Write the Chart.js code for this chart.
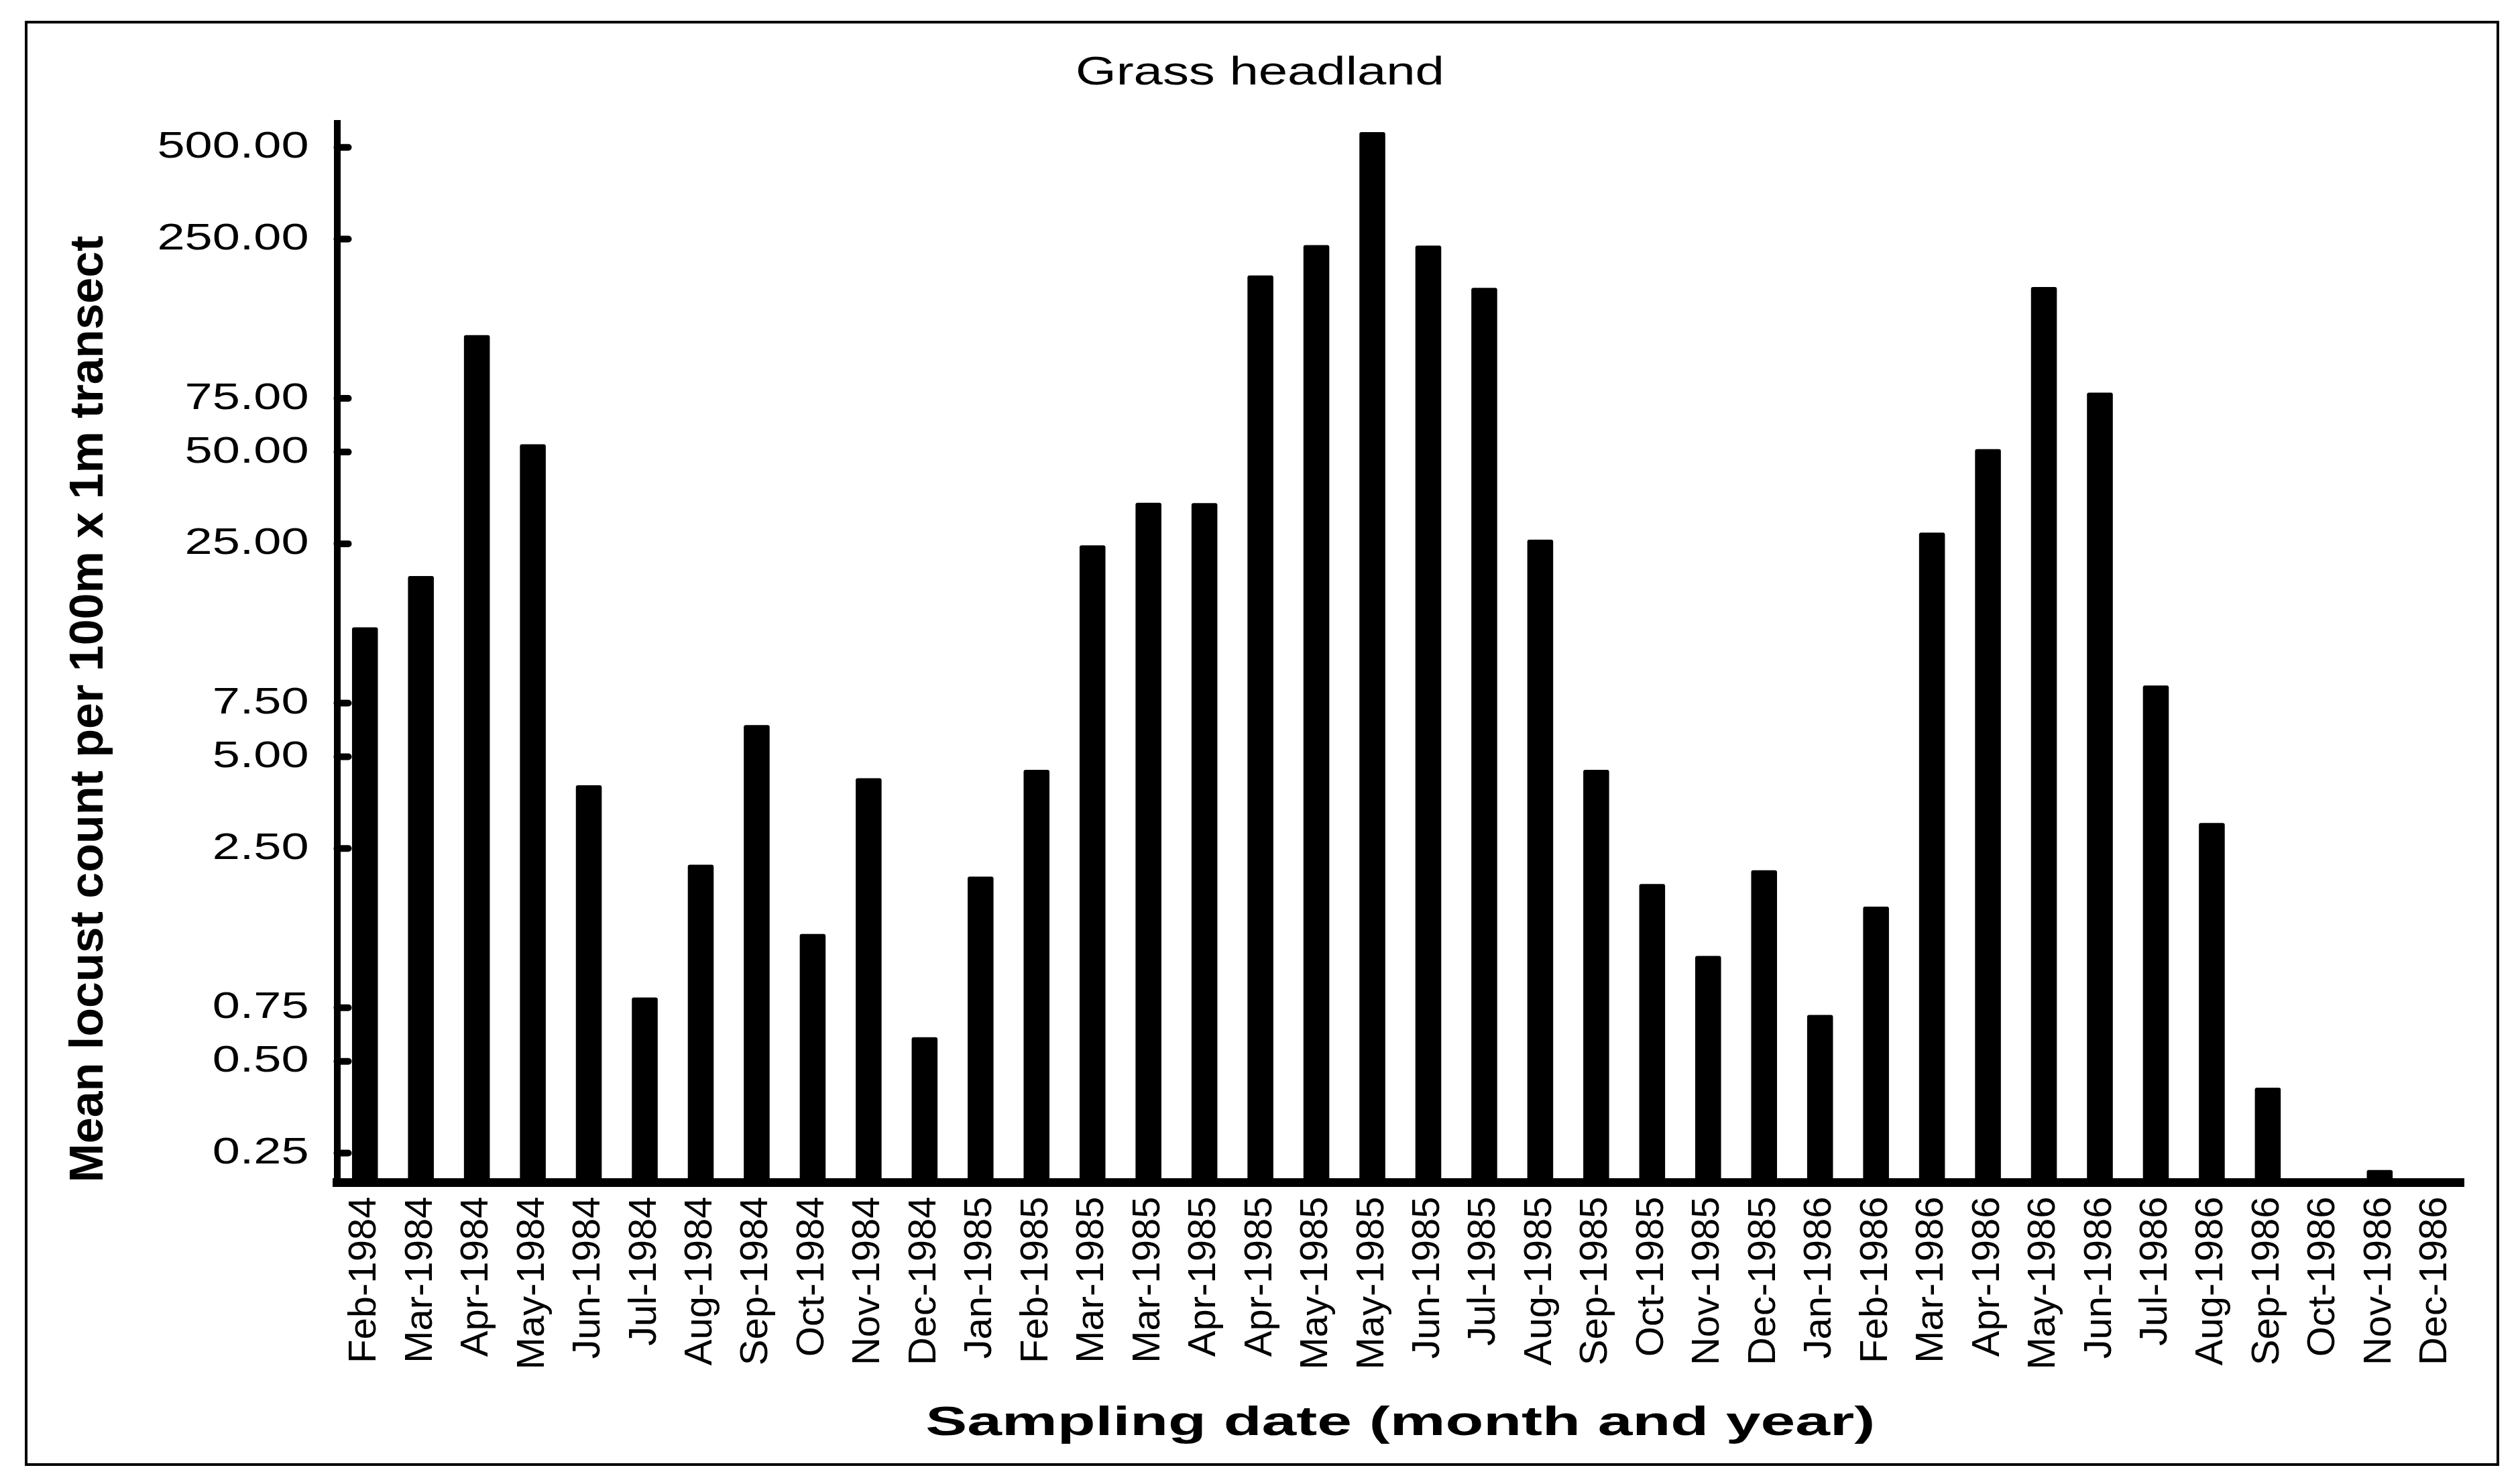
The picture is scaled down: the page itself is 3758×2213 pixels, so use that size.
<!DOCTYPE html>
<html>
<head>
<meta charset="utf-8">
<title>Grass headland</title>
<script src="https://cdn.jsdelivr.net/npm/chart.js@4.4.1/dist/chart.umd.min.js"></script>
<style>
    html, body { margin: 0; padding: 0; background: #fff; }
    #frame {
        position: absolute; left: 37px; top: 31px; width: 3690px; height: 2155px;
        border: 4px solid #000; box-sizing: border-box;
    }
    #chart { position: absolute; left: 0; top: 0; }
</style>
</head>
<body>
<div id="frame"></div>
<canvas id="chart" width="3758" height="2213" style="width:3758px;height:2213px"></canvas>
<script>
const months = [
    'Feb-1984', 'Mar-1984', 'Apr-1984', 'May-1984', 'Jun-1984', 'Jul-1984', 'Aug-1984',
    'Sep-1984', 'Oct-1984', 'Nov-1984', 'Dec-1984', 'Jan-1985', 'Feb-1985', 'Mar-1985',
    'Mar-1985', 'Apr-1985', 'Apr-1985', 'May-1985', 'May-1985', 'Jun-1985', 'Jul-1985',
    'Aug-1985', 'Sep-1985', 'Oct-1985', 'Nov-1985', 'Dec-1985', 'Jan-1986', 'Feb-1986',
    'Mar-1986', 'Apr-1986', 'May-1986', 'Jun-1986', 'Jul-1986', 'Aug-1986', 'Sep-1986',
    'Oct-1986', 'Nov-1986', 'Dec-1986'
];

// mean locust count per 100m x 1m transect
const meanCounts = [
    13.3, 19.6, 121, 53.0, 4.03, 0.81, 2.21,
    6.35, 1.31, 4.25, 0.60, 2.02, 4.53, 24.7,
    34.1, 34.0, 190, 239, 561, 238, 173,
    25.8, 4.53, 1.91, 1.11, 2.12, 0.71, 1.61,
    27.2, 51.1, 174, 78.3, 8.57, 3.03, 0.41,
    null, 0.22, null
];

const yTickValues = [0.25, 0.5, 0.75, 2.5, 5, 7.5, 25, 50, 75, 250, 500];

const FONT = 'Liberation Sans, Arial, sans-serif';

// the picture's horizontal lettering is wider than plain Arial
const wideText = {
    id: 'wideText',
    beforeDraw(chart) {
        const ctx = chart.ctx;
        if (ctx._wide) return;
        ctx._wide = true;
        const fill = ctx.fillText;
        ctx.fillText = function (text, x, y, maxWidth) {
            const m = this.getTransform();
            if (Math.abs(m.b) > 0.001) {
                return fill.call(this, text, x, y, maxWidth);
            }
            const k = this.font.indexOf('bold') >= 0 ? 1.5 : 1.32;
            this.save();
            this.translate(x, y);
            this.scale(k, 1);
            if (maxWidth === undefined) fill.call(this, text, 0, 0);
            else fill.call(this, text, 0, 0, maxWidth);
            this.restore();
        };
    }
};

// short tick marks pointing into the plot
const yTickMarks = {
    id: 'yTickMarks',
    afterDraw(chart) {
        const scale = chart.scales.y;
        const ctx = chart.ctx;
        ctx.save();
        ctx.strokeStyle = '#000';
        ctx.lineWidth = 10;
        ctx.lineCap = 'round';
        scale.ticks.forEach(t => {
            const py = scale.getPixelForValue(t.value);
            ctx.beginPath();
            ctx.moveTo(scale.right, py);
            ctx.lineTo(scale.right + 17, py);
            ctx.stroke();
        });
        ctx.restore();
    }
};

new Chart(document.getElementById('chart'), {
    type: 'bar',
    data: {
        labels: months,
        datasets: [{
            data: meanCounts,
            backgroundColor: '#000',
            borderWidth: 0,
            borderRadius: { topLeft: 3, topRight: 3 },
            barPercentage: 0.462,
            categoryPercentage: 1
        }]
    },
    options: {
        responsive: false,
        animation: false,
        devicePixelRatio: 1,
        layout: { padding: 0 },
        plugins: {
            legend: { display: false },
            tooltip: { enabled: false },
            title: {
                display: true,
                text: 'Grass headland',
                color: '#000',
                font: { family: FONT, size: 59, weight: 'normal' },
                padding: { top: 74, bottom: 39 }
            }
        },
        scales: {
            x: {
                grid: { display: false, drawTicks: false },
                border: { display: true, color: '#000', width: 13 },
                ticks: {
                    color: '#000',
                    font: { family: FONT, size: 58 },
                    minRotation: 90,
                    maxRotation: 90,
                    autoSkip: false,
                    padding: 21
                },
                title: {
                    display: true,
                    text: 'Sampling date (month and year)',
                    color: '#000',
                    font: { family: FONT, size: 62, weight: 'bold' },
                    padding: { top: 0, bottom: 53 }
                },
                afterFit(scale) { scale.height = 449.4; }
            },
            y: {
                type: 'logarithmic',
                min: 0.2,
                max: 600,
                grid: { display: false, drawTicks: false },
                border: { display: true, color: '#000', width: 10 },
                afterBuildTicks(scale) {
                    scale.ticks = yTickValues.map(v => ({ value: v }));
                },
                ticks: {
                    color: '#000',
                    font: { family: FONT, size: 56 },
                    padding: 42,
                    callback: v => Number(v).toFixed(2)
                },
                title: {
                    display: true,
                    text: 'Mean locust count per 100m x 1m transect',
                    color: '#000',
                    align: 'start',
                    font: { family: FONT, size: 70, weight: 'bold' },
                    padding: { top: 92, bottom: 0 }
                },
                afterFit(scale) { scale.width = 502.5; }
            },
            // empty strip on the right so the title stays centred on the whole figure
            spacer: {
                type: 'linear',
                position: 'right',
                grid: { display: false, drawTicks: false },
                border: { display: false },
                ticks: { display: false },
                afterFit(scale) { scale.width = 84; }
            }
        }
    },
    plugins: [wideText, yTickMarks]
});
</script>
</body>
</html>
